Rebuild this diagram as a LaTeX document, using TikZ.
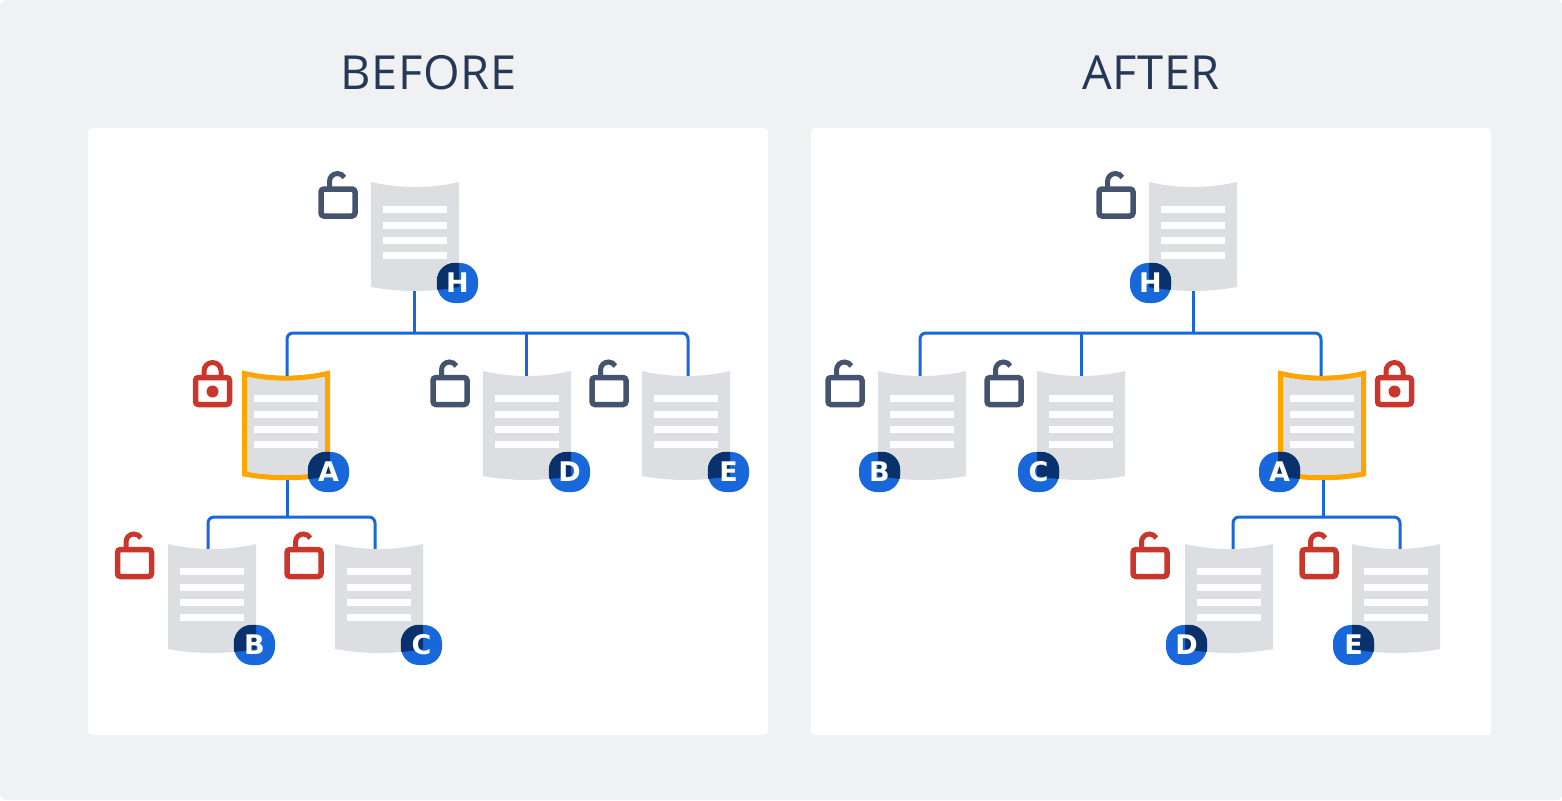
\documentclass[tikz,border=0pt]{standalone}
\usepackage{fontspec}
\setmainfont{Open Sans}
\newfontfamily\badgefont{DejaVu Sans}

\definecolor{pagegrey}{HTML}{F0F1F3}
\definecolor{sheetgrey}{HTML}{DCDEE2}
\definecolor{linkblue}{HTML}{1868DB}
\definecolor{deepblue}{HTML}{09326C}
\definecolor{slatelock}{HTML}{44546F}
\definecolor{redlock}{HTML}{C9372C}
\definecolor{markorange}{HTML}{FFA500}
\definecolor{titleblue}{HTML}{253858}

\tikzset{
  panel/.style={fill=white,rounded corners=4,minimum width=680,minimum height=607,inner sep=0},
  heading/.style={text=titleblue,font=\fontsize{47}{47}\selectfont\addfontfeature{LetterSpace=1.5},inner sep=0},
  link/.style={draw=linkblue,line width=3,rounded corners=6},
  sheet path/.style={insert path={(0,0) .. controls (29,6.7) and (59,6.7) .. (88,0) -- (88,105)
      .. controls (59,110.3) and (29,110.3) .. (0,105) -- cycle}},
  badge/.style={fill=linkblue,rounded corners=18,minimum width=41,minimum height=40,inner sep=0},
  badgetext/.style={text=white,font=\badgefont\bfseries\fontsize{27}{27}\selectfont,inner sep=0},
  pics/sheet/.style={code={
    \coordinate (-o) at (0,0);
    \node[minimum width=88,minimum height=104,inner sep=0] (-box) at (44,57) {};
    \fill[sheetgrey,sheet path];
    \foreach \y in {24,39.5,55,70}
      \fill[white] (12,\y) rectangle ++(64,7);
  }},
  pics/marked/.style={code={
    \coordinate (-o) at (0,0);
    \node[minimum width=88,minimum height=104,inner sep=0] (-box) at (44,57) {};
    \fill[sheetgrey,sheet path];
    \foreach \y in {24,39.5,55,70}
      \fill[white] (12,\y) rectangle ++(64,7);
    \draw[markorange,line width=5] (2.5,2.5) .. controls (29,8.7) and (59,8.7) .. (85.5,2.5) -- (85.5,103)
      .. controls (59,108) and (29,108) .. (2.5,103) -- cycle;
  }},
  pics/openlock/.style={code={
    \draw[#1,line width=5.5,rounded corners=3] (-17.5,-14) rectangle (16.5,13);
    \draw[#1,line width=5] (-9,-14) -- (-9,-21.5) arc[start angle=180,end angle=330,radius=8];
  }},
  pics/shutlock/.style={code={
    \draw[#1,line width=5.5,rounded corners=3] (-17.5,-14) rectangle (16.5,13);
    \draw[#1,line width=5] (-9,-14) -- (-9,-20.5) arc[start angle=180,end angle=360,radius=8.5] -- (8,-14);
    \fill[#1] (-0.5,0) circle (6);
  }},
}

% name of the badge, name of its sheet, place, letter
\newcommand{\sheetbadge}[4]{
  \node[badge] (#1) at (#3) {};
  \begin{scope}
    \clip[shift={(#2-o)},sheet path];
    \fill[deepblue,rounded corners=18] (#1.south west) rectangle (#1.north east);
  \end{scope}
  \node[badgetext] (#1-letter) at (#1) {#4};
}

\begin{document}
\begin{tikzpicture}[x=1pt,y=-1pt]

\fill[pagegrey,rounded corners=6] (0,0) rectangle (1562,800);

\node[panel] (prePanel) at (428,431.5) {};
\node[panel] (postPanel) at (1151,431.5) {};
\node[heading] (preTitle) at (428.5,73) {BEFORE};
\node[heading] (postTitle) at (1151,73) {AFTER};

% before
\pic (preH) at (371,182) {sheet};
\pic (preA) at (242,371) {marked};
\pic (preD) at (483,371) {sheet};
\pic (preE) at (642,371) {sheet};
\pic (preB) at (168,544) {sheet};
\pic (preC) at (335,544) {sheet};

\coordinate (preBusTop) at (414,333);
\coordinate (preBusLow) at (287,517);

\draw[link] ([xshift=-1]preH-box.south) -- (preBusTop);
\draw[link] ([xshift=1]preA-box.north) |- (preBusTop) -| ([xshift=2]preE-box.north);
\draw[link] ([xshift=-1]preD-box.north) -- ([xshift=-1]preD-box.north |- preBusTop);
\draw[link] ([xshift=1]preA-box.south) -- (preBusLow);
\draw[link] ([xshift=-4]preB-box.north) |- (preBusLow) -| ([xshift=-4]preC-box.north);

\pic at (338.5,203) {openlock=slatelock};
\pic at (213,391.5) {shutlock=redlock};
\pic at (450.5,391.5) {openlock=slatelock};
\pic at (609.5,391.5) {openlock=slatelock};
\pic at (135,563.5) {openlock=redlock};
\pic at (304.5,563.5) {openlock=redlock};

\sheetbadge{preHtag}{preH}{457.5,283}{H}
\sheetbadge{preAtag}{preA}{328.5,472}{A}
\sheetbadge{preDtag}{preD}{569.5,472}{D}
\sheetbadge{preEtag}{preE}{728.5,472}{E}
\sheetbadge{preBtag}{preB}{254.5,645}{B}
\sheetbadge{preCtag}{preC}{421.5,645}{C}

% after
\pic (postH) at (1149,182) {sheet};
\pic (postB) at (878,371) {sheet};
\pic (postC) at (1037,371) {sheet};
\pic (postA) at (1278,371) {marked};
\pic (postD) at (1185,544) {sheet};
\pic (postE) at (1352,544) {sheet};

\coordinate (postBusTop) at (1193,333);
\coordinate (postBusLow) at (1323.5,517);

\draw[link] (postH-box.south) -- (postBusTop);
\draw[link] ([xshift=-2]postB-box.north) |- (postBusTop) -| ([xshift=-1]postA-box.north);
\draw[link] (postC-box.north) -- (postC-box.north |- postBusTop);
\draw[link] ([xshift=1.5]postA-box.south) -- (postBusLow);
\draw[link] ([xshift=4]postD-box.north) |- (postBusLow) -| ([xshift=4]postE-box.north);

\pic at (1116.5,203) {openlock=slatelock};
\pic at (845.5,391.5) {openlock=slatelock};
\pic at (1004.5,391.5) {openlock=slatelock};
\pic at (1395,391.5) {shutlock=redlock};
\pic at (1150.5,563.5) {openlock=redlock};
\pic at (1319.5,563.5) {openlock=redlock};

\sheetbadge{postHtag}{postH}{1150.5,283}{H}
\sheetbadge{postBtag}{postB}{879.5,472}{B}
\sheetbadge{postCtag}{postC}{1038.5,472}{C}
\sheetbadge{postAtag}{postA}{1279.5,472}{A}
\sheetbadge{postDtag}{postD}{1186.5,645}{D}
\sheetbadge{postEtag}{postE}{1353.5,645}{E}

\end{tikzpicture}
\end{document}
